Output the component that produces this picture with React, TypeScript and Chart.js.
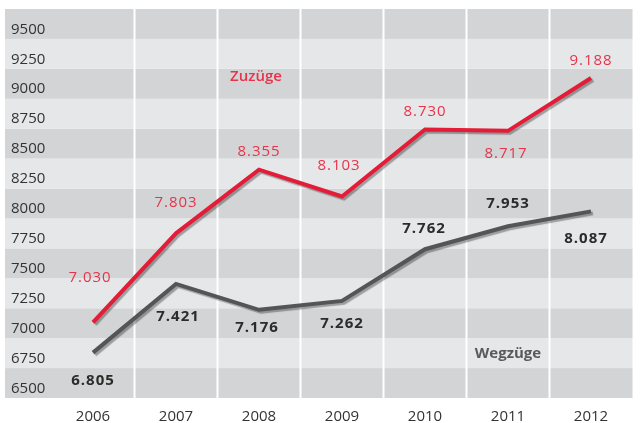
import React, { useEffect, useRef } from "react";
import { Chart, registerables } from "chart.js";

Chart.register(...registerables);

const years = ["2006", "2007", "2008", "2009", "2010", "2011", "2012"];
const tickValues = [6500, 6750, 7000, 7250, 7500, 7750, 8000, 8250, 8500, 8750, 9000, 9250, 9500];
// plotted positions
const zuzuegeValues = [7051, 7796, 8328, 8104, 8663, 8652, 9093];
const wegzuegeValues = [6799, 7373, 7157, 7231, 7663, 7855, 7979];
// printed value labels
const zuzuegeLabels = ["7.030", "7.803", "8.355", "8.103", "8.730", "8.717", "9.188"];
const wegzuegeLabels = ["6.805", "7.421", "7.176", "7.262", "7.762", "7.953", "8.087"];

// layout constants for label placement (pixels relative to the point)
const zuzuegeDx = [-3, 0, 0, -3, 0, -2, 0];
const zuzuegeDy = [-45, -31, -18, -31, -18, 23, -17];
const wegzuegeDx = [0, 2, -2, 0, -1, 0, -5];
const wegzuegeDy = [28, 33, 18, 23, -20, -23, 27];

const RED = "#e31d38";
const RED_TEXT = "#e8334b";
const GREY = "#555557";
const DARK_BAND = "#d3d4d6";
const LIGHT_BAND = "#e6e7e9";
const FONT = "'Open Sans', 'Noto Sans', sans-serif";

const bandsPlugin = {
  id: "bands",
  beforeDraw(chart: any) {
    const { ctx, chartArea, scales } = chart;
    const y = scales.y;
    const x = scales.x;
    ctx.save();
    tickValues.forEach((v) => {
      const top = y.getPixelForValue(v + 170);
      const bottom = y.getPixelForValue(v - 80);
      const idx = Math.round((9500 - v) / 250);
      ctx.fillStyle = idx % 2 === 0 ? DARK_BAND : LIGHT_BAND;
      ctx.fillRect(5, top, chartArea.right - 5, bottom - top);
    });
    ctx.fillStyle = "#ffffff";
    for (let i = 1; i < years.length; i++) {
      const px = (x.getPixelForValue(i - 1) + x.getPixelForValue(i)) / 2;
      ctx.fillRect(px - 1, chartArea.top, 2, chartArea.bottom - chartArea.top);
    }
    ctx.restore();
  },
};

const shadowPlugin = {
  id: "lineShadow",
  beforeDatasetDraw(chart: any) {
    const ctx = chart.ctx;
    ctx.save();
    ctx.shadowColor = "rgba(0,0,0,0.32)";
    ctx.shadowOffsetX = 2;
    ctx.shadowOffsetY = 2;
    ctx.shadowBlur = 1;
  },
  afterDatasetDraw(chart: any) {
    chart.ctx.restore();
  },
};

const labelsPlugin = {
  id: "valueLabels",
  afterDatasetsDraw(chart: any) {
    const { ctx, scales } = chart;
    const x = scales.x;
    const y = scales.y;
    ctx.save();
    ctx.textAlign = "center";
    ctx.textBaseline = "middle";
    try {
      (ctx as any).letterSpacing = "1px";
    } catch (e) {}
    const m0 = chart.getDatasetMeta(0);
    const m1 = chart.getDatasetMeta(1);
    ctx.font = `500 15px ${FONT}`;
    ctx.fillStyle = RED_TEXT;
    zuzuegeLabels.forEach((t, i) => {
      const p = m0.data[i];
      ctx.fillText(t, p.x + zuzuegeDx[i], p.y + zuzuegeDy[i]);
    });
    ctx.font = `bold 15px ${FONT}`;
    ctx.fillStyle = "#2b2b2b";
    wegzuegeLabels.forEach((t, i) => {
      const p = m1.data[i];
      ctx.fillText(t, p.x + wegzuegeDx[i], p.y + wegzuegeDy[i]);
    });
    try {
      (ctx as any).letterSpacing = "0px";
    } catch (e) {}
    ctx.font = `600 15px ${FONT}`;
    ctx.fillStyle = RED_TEXT;
    ctx.fillText("Zuzüge", x.getPixelForValue(2) - 3, y.getPixelForValue(9100));
    ctx.font = `bold 15px ${FONT}`;
    ctx.fillStyle = "#5a5a5c";
    ctx.fillText("Wegzüge", x.getPixelForValue(5), y.getPixelForValue(6790));
    ctx.restore();
  },
};

export default function App() {
  const ref = useRef<HTMLCanvasElement | null>(null);
  useEffect(() => {
    if (!ref.current) return;
    const chart = new Chart(ref.current, {
      type: "line",
      data: {
        labels: years,
        datasets: [
          {
            label: "Zuzüge",
            data: zuzuegeValues,
            borderColor: RED,
            borderWidth: 4,
            pointRadius: 0,
            tension: 0,
            borderCapStyle: "butt",
            borderJoinStyle: "miter",
            fill: false,
          },
          {
            label: "Wegzüge",
            data: wegzuegeValues,
            borderColor: GREY,
            borderWidth: 4,
            pointRadius: 0,
            tension: 0,
            borderCapStyle: "butt",
            borderJoinStyle: "miter",
            fill: false,
          },
        ],
      },
      options: {
        animation: false,
        responsive: false,
        maintainAspectRatio: false,
        layout: { padding: { left: 11, right: 9.5, top: 6, bottom: 0 } },
        plugins: {
          legend: { display: false },
          tooltip: { enabled: false },
        },
        scales: {
          x: {
            offset: true,
            grid: { display: false, drawTicks: false },
            border: { display: false },
            afterFit: (s: any) => {
              s.height = 25;
            },
            ticks: {
              padding: 10,
              color: "#333333",
              font: { family: FONT, size: 15 },
              maxRotation: 0,
            },
          },
          y: {
            position: "left",
            min: 6420,
            max: 9670,
            grid: { display: false, drawTicks: false },
            border: { display: false },
            afterBuildTicks: (s: any) => {
              s.ticks = tickValues.map((v) => ({ value: v }));
            },
            afterFit: (s: any) => {
              s.width = 40.5;
            },
            ticks: {
              crossAlign: "far",
              padding: 0,
              color: "#333333",
              font: { family: FONT, size: 15 },
              callback: (v: any) => String(v),
            },
          },
        },
      },
      plugins: [bandsPlugin, shadowPlugin, labelsPlugin],
    });
    return () => chart.destroy();
  }, []);
  return (
    <div style={{ position: "fixed", left: 0, top: 0, width: 642, height: 423, background: "#fff" }}>
      <canvas ref={ref} width={642} height={423} />
    </div>
  );
}
